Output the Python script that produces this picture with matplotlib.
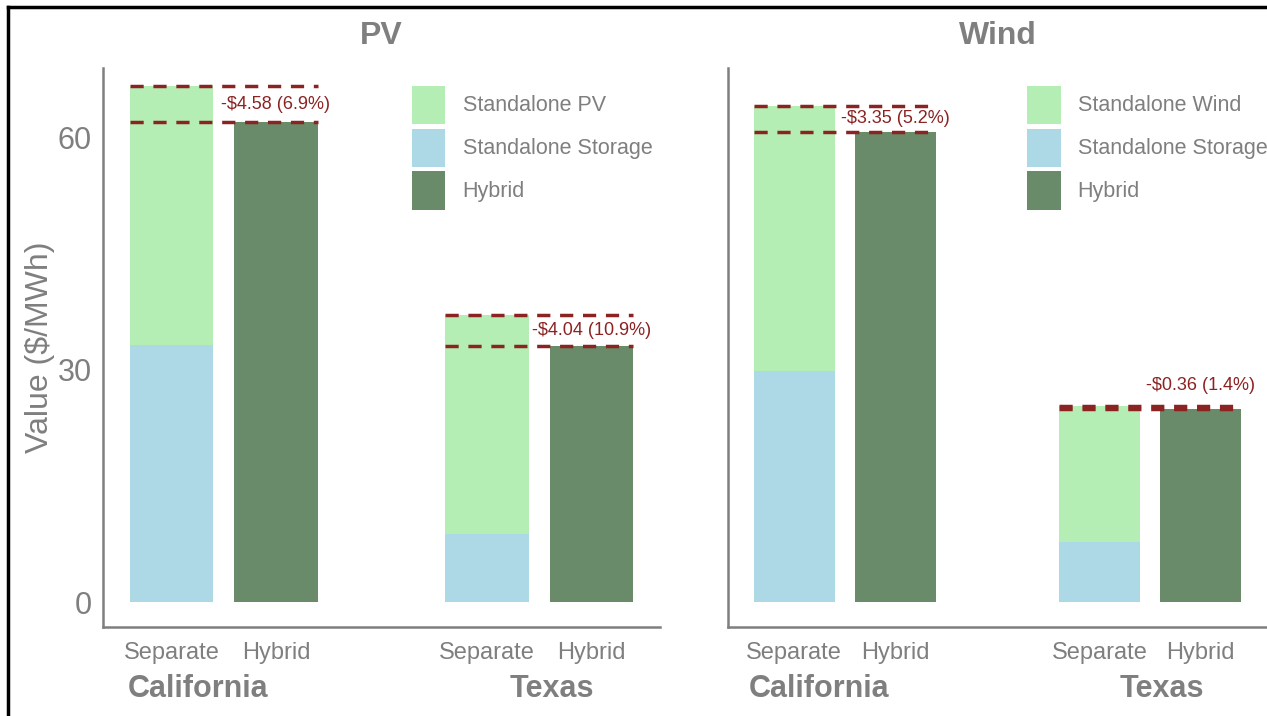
import matplotlib
matplotlib.use('Agg')
import matplotlib.pyplot as plt
from matplotlib.patches import Patch
from matplotlib.lines import Line2D
import numpy as np

plt.rcParams['font.family'] = ['Liberation Sans', 'DejaVu Sans']

# data ($/MWh)
techs = ['PV', 'Wind']
regions = ['California', 'Texas']
bar_names = ['Separate', 'Hybrid']
storage_vals = {'PV': [33.2, 8.8], 'Wind': [29.9, 7.8]}
total_sep = {'PV': [66.6, 37.1], 'Wind': [64.1, 25.36]}
hybrid_vals = {'PV': [62.0, 33.1], 'Wind': [60.75, 25.0]}
diff_labels = {'PV': ['-$4.58 (6.9%)', '-$4.04 (10.9%)'],
               'Wind': ['-$3.35 (5.2%)', '-$0.36 (1.4%)']}

c_gen = '#B4EEB4'
c_sto = '#ADD8E6'
c_hyb = '#698B69'
c_red = '#8B2323'
grey = '#7F7F7F'

fig = plt.figure(figsize=(12.67, 7.16), dpi=100)
axes = [fig.add_axes([0.0813, 0.1243, 0.4396, 0.781]),
        fig.add_axes([0.5746, 0.1243, 0.4254, 0.781])]

group_pos = np.array([0.0, 3.02])
w = 0.8

for ax, tech in zip(axes, techs):
    sto = np.array(storage_vals[tech])
    tot = np.array(total_sep[tech])
    hyb = np.array(hybrid_vals[tech])
    gen = tot - sto
    xs = group_pos
    xh = group_pos + 1
    ax.bar(xs, sto, width=w, color=c_sto)
    ax.bar(xs, gen, bottom=sto, width=w, color=c_gen)
    ax.bar(xh, hyb, width=w, color=c_hyb)
    for i in range(2):
        for yv in (tot[i], hyb[i]):
            ax.plot([xs[i] - w / 2, xh[i] + w / 2], [yv, yv], color=c_red,
                    linestyle=(0, (3.8, 2.8)), linewidth=2.5)
        d = tot[i] - hyb[i]
        ty = (tot[i] + hyb[i]) / 2 if d > 1 else tot[i] + 2.6
        ax.text(xh[i], ty, diff_labels[tech][i], color=c_red, fontsize=13,
                ha='center', va='center')
    ax.set_xlim(-0.655, 4.675)
    ax.set_ylim(-3.2, 69)
    ax.set_xticks(np.concatenate([xs, xh]))
    ax.set_xticklabels([bar_names[0]] * 2 + [bar_names[1]] * 2)
    ax.tick_params(length=0, colors=grey, labelsize=17, pad=11)
    ax.set_yticks([0, 30, 60])
    ax.tick_params(axis='y', labelsize=22, pad=8)
    for s in ['top', 'right']:
        ax.spines[s].set_visible(False)
    for s in ['left', 'bottom']:
        ax.spines[s].set_color(grey)
        ax.spines[s].set_linewidth(1.8)
    ax.set_title(tech, fontsize=23, fontweight='bold', color=grey, pad=17)
    # region labels
    ax.text(group_pos[0] + 0.5 - 0.25, -0.11, regions[0], transform=ax.get_xaxis_transform(),
            ha='center', va='center', fontsize=22, fontweight='bold', color=grey)
    ax.text(group_pos[1] + 0.5 + 0.12, -0.11, regions[1], transform=ax.get_xaxis_transform(),
            ha='center', va='center', fontsize=22, fontweight='bold', color=grey)
    handles = [Patch(facecolor=c_gen, label='Standalone ' + tech),
               Patch(facecolor=c_sto, label='Standalone Storage'),
               Patch(facecolor=c_hyb, label='Hybrid')]
    ax.legend(handles=handles, loc='upper left', bbox_to_anchor=(0.555, 0.968),
              frameon=False, fontsize=15.5, labelcolor=grey, handlelength=1.55,
              handleheight=2.35, labelspacing=0.22, handletextpad=0.8, borderpad=0,
              borderaxespad=0)

axes[1].tick_params(axis='y', labelleft=False)
axes[0].set_ylabel('Value ($/MWh)', fontsize=23, color=grey, labelpad=2)

# frame lines of the screenshot
fig.add_artist(Line2D([0.0066, 0.0066], [0, 0.99], color='black', linewidth=2.5))
fig.add_artist(Line2D([0.0066, 1], [0.99, 0.99], color='black', linewidth=2.5))

fig.savefig('out.png', dpi=100)
